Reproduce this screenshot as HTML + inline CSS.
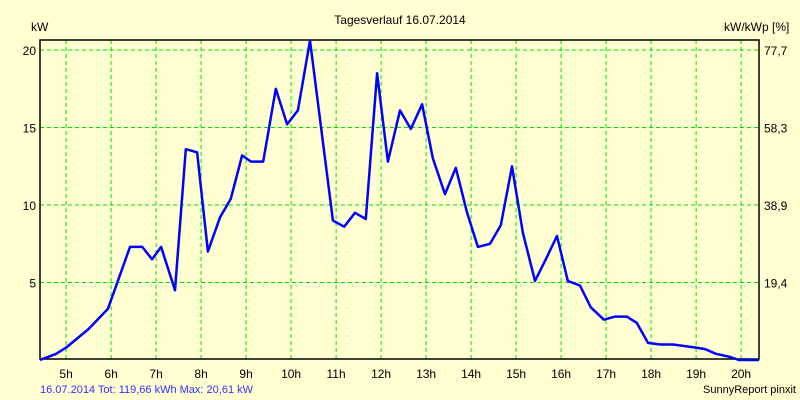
<!DOCTYPE html>
<html><head><meta charset="utf-8"><style>
body{margin:0;background:#ffffd2;}
svg{display:block;font-family:"Liberation Sans",sans-serif;}
</style></head><body>
<svg id="chart" width="800" height="400" xmlns="http://www.w3.org/2000/svg">
<rect x="0" y="0" width="800" height="400" fill="#ffffd2"/>
<text x="400" y="24" font-size="12" text-anchor="middle">Tagesverlauf 16.07.2014</text>
<text x="31" y="31" font-size="12">kW</text>
<text x="724" y="31" font-size="12">kW/kWp [%]</text>
<g id="grid"></g>
<g id="ticks"></g>
<rect x="40" y="40" width="719" height="319" fill="none" stroke="#000" stroke-width="1.5"/>
<path id="line" fill="none" stroke="#0000ff" stroke-width="2.5" stroke-linejoin="round"/>
<text x="40" y="393" font-size="11" fill="#3030ff">16.07.2014 Tot: 119,66 kWh Max: 20,61 kW</text>
<text x="796" y="393" font-size="11" text-anchor="end">SunnyReport pinxit</text>
</svg>
<script>
const hourTicks=[5,6,7,8,9,10,11,12,13,14,15,16,17,18,19,20];
const kwTicks=[5,10,15,20];
const pctLabels=["19,4","38,9","58,3","77,7"];
const times=[4.42,4.6,4.78,5.0,5.5,5.93,6.42,6.69,6.91,7.11,7.42,7.66,7.91,8.15,8.42,8.66,8.91,9.11,9.38,9.66,9.91,10.15,10.42,10.93,11.18,11.42,11.66,11.91,12.15,12.42,12.66,12.91,13.15,13.42,13.66,13.91,14.15,14.42,14.66,14.91,15.15,15.42,15.66,15.91,16.15,16.42,16.66,16.95,17.2,17.46,17.68,17.93,18.2,18.49,19.0,19.2,19.44,19.75,19.95,20.4];
const kw=[0,0.2,0.4,0.8,2.0,3.3,7.3,7.3,6.5,7.3,4.5,13.6,13.4,7.0,9.2,10.4,13.2,12.8,12.8,17.5,15.2,16.1,20.61,9.0,8.6,9.5,9.1,18.5,12.8,16.1,14.9,16.5,13.0,10.7,12.4,9.5,7.3,7.5,8.7,12.5,8.2,5.1,6.5,8.0,5.1,4.8,3.4,2.6,2.8,2.8,2.4,1.1,1.0,1.0,0.8,0.7,0.4,0.2,0,0];
const X=t=>40+(t-4.42)*45;
const Y=v=>360-v*15.5;
const NS="http://www.w3.org/2000/svg";
const grid=document.getElementById('grid'),ticks=document.getElementById('ticks');
function mk(tag,attrs,parent){const e=document.createElementNS(NS,tag);for(const k in attrs)e.setAttribute(k,attrs[k]);parent.appendChild(e);return e;}
hourTicks.forEach(h=>{
 const x=X(h);
 const l=mk('line',{x1:x,x2:x,y1:40,y2:359,stroke:'#00e000','stroke-dasharray':'4,3'},grid);
 
 
 const t=mk('text',{x:x,y:378,'font-size':12,'text-anchor':'middle'},ticks);
 t.textContent=h+'h';
 
 
});
kwTicks.forEach((v,i)=>{
 const y=Y(v);
 const l=mk('line',{x1:40,x2:759,y1:y,y2:y,stroke:'#00e000','stroke-dasharray':'4,3'},grid);
 
 
 const t=mk('text',{x:36,y:y+5,'font-size':12,'text-anchor':'end'},ticks);
 t.textContent=v;
 
 
 const r=mk('text',{x:764,y:y+5,'font-size':12},ticks);
 r.textContent=pctLabels[i];
 
 
});
document.getElementById('line').setAttribute('d',times.map((t,i)=>(i?'L':'M')+X(t).toFixed(1)+','+Y(kw[i]).toFixed(1)).join(' '));
</script>
</body></html>
